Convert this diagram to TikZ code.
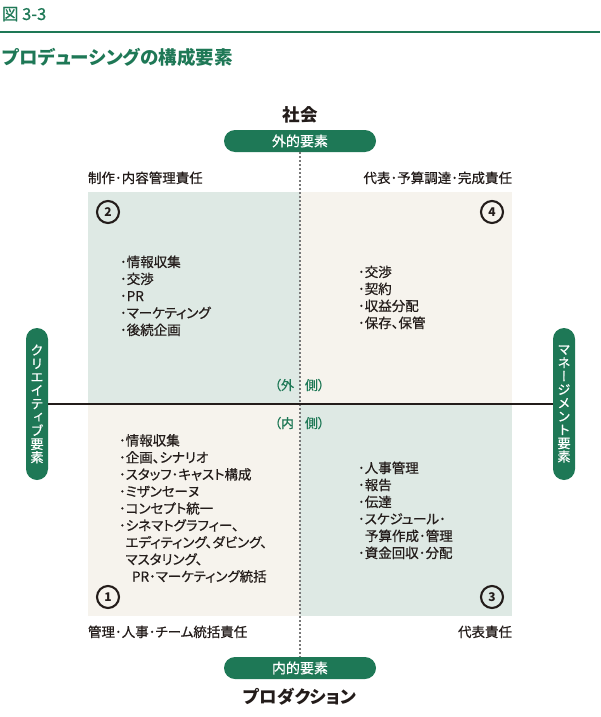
\documentclass[tikz,border=0pt]{standalone}
\usepackage{fontspec}
\setmainfont{Noto Sans CJK JP}
\newfontfamily\jp[RawFeature=+palt, FakeBold=0.6]{Noto Sans CJK JP}
\newfontfamily\jpb[RawFeature=+palt]{Noto Sans CJK JP}
\newfontfamily\jpv[RawFeature=+vert, FakeBold=0.6]{Noto Sans CJK JP}

\definecolor{brand}{RGB}{30,120,86}
\definecolor{ink}{RGB}{35,28,26}
\definecolor{mint}{RGB}{222,233,228}
\definecolor{paper}{RGB}{246,243,237}
\definecolor{dots}{RGB}{120,120,120}

\tikzset{
  every node/.style={inner sep=0pt, outer sep=0pt, text=ink},
  hpill/.style={fill=brand, rounded corners=11pt, minimum width=152pt,
    minimum height=22pt, text=white, font=\jp\fontsize{14}{14}\selectfont},
  vpill/.style={fill=brand, rounded corners=11pt, minimum width=22pt,
    minimum height=152pt, text=white, align=center,
    font=\jpv\fontsize{13.2}{13.4}\selectfont},
  quad/.style={anchor=north west, minimum width=212pt, minimum height=212pt},
  role/.style={font=\jp\fontsize{13.5}{13.5}\selectfont},
  item/.style={anchor=base west, font=\jp\fontsize{13.5}{13.5}\selectfont},
  side/.style={text=brand, font=\jp\fontsize{13}{13}\selectfont},
  numc/.style={circle, draw=ink, line width=2.1pt, minimum size=22pt,
    font=\bfseries\fontsize{12}{12}\selectfont},
  pole/.style={font=\jpb\bfseries\fontsize{17.5}{17.5}\selectfont},
  dotline/.style={dots, line width=1.8pt, dash pattern=on 2pt off 2pt},
  axis/.style={ink, line width=2.4pt}
}

\begin{document}
\begin{tikzpicture}[x=1pt, y=-1pt]
\useasboundingbox (0,0) rectangle (600,717);

% header and title
\node[anchor=base west, text=brand, font=\jp\fontsize{16.5}{16.5}\selectfont] (fig) at (2,20) {図 3-3};
\draw[brand, line width=2pt] (0,32) -- (600,32);
\node[anchor=base west, text=brand, font=\jpb\bfseries\fontsize{18.5}{18.5}\selectfont] (title) at (2,64) {プロデューシングの構成要素};

% four quadrants
\node[quad, fill=mint]  (q2) at (88,192) {};
\node[quad, fill=paper] (q4) at (300,192) {};
\node[quad, fill=paper] (q1) at (88,404) {};
\node[quad, fill=mint]  (q3) at (300,404) {};

% poles and element pills
\node[pole, anchor=base] (society) at (300,121) {社会};
\node[hpill] (outer) at (300,141) {外的要素};
\node[hpill] (inner) at (300,668) {内的要素};
\node[pole, anchor=base] (production) at (300,703) {プロダクション};

\node[vpill] (creative) at (37,404) {ク\\リ\\エ\\イ\\テ\\ィ\\ブ\\要\\素};
\node[vpill] (manage) at (564,404) {マ\\ネ\\ー\\ジ\\メ\\ン\\ト\\要\\素};

% axes
\draw[dotline] (outer.south) -- (inner.north);
\draw[axis] (creative.east) -- (manage.west);

% side markers
\node[side, anchor=base east] (outL) at (294,390) {（外};
\node[side, anchor=base west] (outR) at (305,390) {側）};
\node[side, anchor=base east] (inL) at (294,428) {（内};
\node[side, anchor=base west] (inR) at (305,428) {側）};

% responsibilities
\node[role, anchor=base west] (r2) at (88,183) {制作･内容管理責任};
\node[role, anchor=base east] (r4) at (512,183) {代表･予算調達･完成責任};
\node[role, anchor=base west] (r1) at (88,637) {管理･人事･チーム統括責任};
\node[role, anchor=base east] (r3) at (512,637) {代表責任};

% quadrant numbers
\node[numc] (n2) at (108,212) {2};
\node[numc] (n4) at (492,212) {4};
\node[numc] (n1) at (108,597) {1};
\node[numc] (n3) at (492,597) {3};

% quadrant 2 items
\foreach \t [count=\i] in {･情報収集, ･交渉, ･PR, ･マーケティング, ･後続企画}
  \node[item, name=a\i] at (120,250+17*\i) {\t};

% quadrant 4 items
\foreach \t [count=\i] in {･交渉, ･契約, ･収益分配, ･保存、保管}
  \node[item, name=b\i] at (358,260+17*\i) {\t};

% quadrant 1 items
\node[item] (c1) at (119,445.5) {･情報収集};
\node[item] (c2) at (119,462.5) {･企画、シナリオ};
\node[item] (c3) at (119,479.5) {･スタッフ･キャスト構成};
\node[item] (c4) at (119,496.5) {･ミザンセーヌ};
\node[item] (c5) at (119,513.5) {･コンセプト統一};
\node[item] (c6) at (119,530.5) {･シネマトグラフィー、};
\node[item] (c7) at (125.5,547.5) {エディティング、ダビング、};
\node[item] (c8) at (125.5,564.5) {マスタリング、};
\node[item] (c9) at (132,581.5) {PR･マーケティング統括};

% quadrant 3 items
\node[item] (d1) at (358,473) {･人事管理};
\node[item] (d2) at (358,490) {･報告};
\node[item] (d3) at (358,507) {･伝達};
\node[item] (d4) at (358,524) {･スケジュール･};
\node[item] (d5) at (365,541) {予算作成･管理};
\node[item] (d6) at (358,558) {･資金回収･分配};
\end{tikzpicture}
\end{document}
